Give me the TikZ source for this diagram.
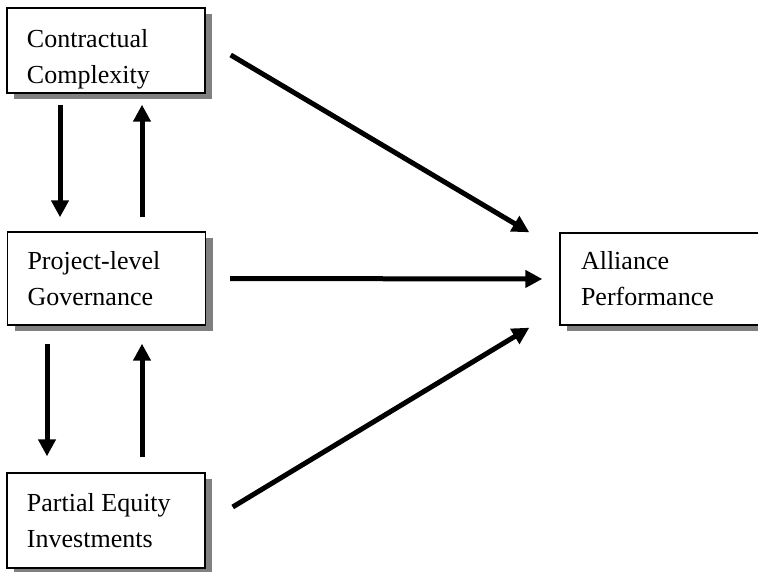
\documentclass[tikz,border=0pt]{standalone}
\usepackage{fontspec}
\setmainfont{Liberation Serif}
\usetikzlibrary{shadows,arrows.meta}

\begin{document}
\begin{tikzpicture}[
						x=1pt, y=1pt,
						box/.style={rectangle, draw=black, line width=1.4pt, fill=white, inner xsep=20pt, inner ysep=0pt, text width=158pt, align=flush left, font=\fontsize{26}{36}\selectfont, drop shadow={shadow xshift=7pt, shadow yshift=-6pt, opacity=1, fill=black!50}},
						arr/.style={line width=5pt, -{Triangle[length=17pt, width=17pt]}}
					]
					\useasboundingbox (0,0) rectangle (758,-572);
					\clip (0,0) rectangle (758,-572);
					\node[box, minimum height=85pt] (cc) at (106,-50.5) {\rule{0pt}{36pt}Contractual\\Complexity};
					\node[box, minimum height=93pt] (pg) at (106.5,-278.5) {Project-level\\Governance};
					\node[box, minimum height=95pt] (pe) at (106,-520.5) {Partial Equity\\Investments};
					\node[box, minimum height=92pt, text width=173pt, inner xsep=21pt] (ap) at (667.5,-279) {Alliance\\Performance};
					\begin{scope}[arr]
					\draw[shorten <=11pt, shorten >=14pt] ([xshift=-46pt]cc.south) -- ([xshift=-46.5pt]pg.north);
					\draw[shorten <=14pt, shorten >=11pt] ([xshift=35.5pt]pg.north) -- ([xshift=36pt]cc.south);
					\draw[shorten <=18pt, shorten >=16pt] ([xshift=-59.5pt]pg.south) -- ([xshift=-59pt]pe.north);
					\draw[shorten <=15pt, shorten >=18pt] ([xshift=36pt]pe.north) -- ([xshift=35.5pt]pg.south);
					\draw ([xshift=25pt, yshift=-4.5pt]cc.east) -- ([xshift=-30pt]ap.north west);
					\draw[shorten <=24pt, shorten >=17pt] (pg.east) -- (ap.west);
					\draw ([xshift=27pt, yshift=13.5pt]pe.east) -- ([xshift=-30pt, yshift=-2pt]ap.south west);
					\end{scope}
					\end{tikzpicture}
\end{document}
